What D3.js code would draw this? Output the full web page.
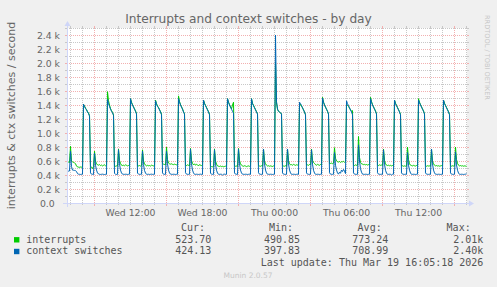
<!DOCTYPE html>
<html>
<head>
<meta charset="utf-8">
<script src="https://cdn.jsdelivr.net/npm/d3@7"></script>
<style>
  body { margin: 0; background: #f0f0f0; }
  svg { display: block; }
  text { font-family: "DejaVu Sans", sans-serif; fill: #666; }
  .mono { font-family: "DejaVu Sans Mono", monospace; font-size: 10px; fill: #555; }
</style>
</head>
<body>
<div id="chart"></div>
<script>
// one sample every 5 minutes, starting Wed 06:45
var startTime = new Date(2026, 2, 18, 6, 45);
var stepMinutes = 5;

var interrupts = [
  580, 585, 578, 810, 600, 585, 580, 575, 560, 530, 515, 512, 510, 514, 512, 515,
  1410, 1385, 1355, 1335, 1305, 1285, 1250,
  520, 515, 492, 518, 740, 600, 560, 545, 540, 548, 535, 542, 530, 538, 545, 532, 540,
  1590, 1460, 1400, 1350, 1320, 1295, 1260,
  520, 525, 530, 528, 770, 610, 565, 540, 535, 540, 532, 545, 538, 530, 536, 540,
  1490, 1440, 1405, 1375, 1345, 1315, 1280,
  525, 530, 535, 528, 532, 760, 600, 560, 540, 530, 538, 532, 535, 528, 540, 535, 530, 534,
  1470, 1420, 1385, 1365, 1335, 1305, 1270,
  560, 555, 550, 545, 800, 620, 570, 560, 555, 560, 552, 548, 555, 550, 545, 552,
  1530, 1450, 1405, 1375, 1345, 1305, 1275,
  540, 535, 545, 538, 530, 780, 610, 565, 545, 560, 540, 552, 545, 530, 548, 540, 535, 542,
  1470, 1425, 1395, 1365, 1335, 1305, 1270,
  525, 520, 518, 522, 770, 600, 555, 530, 525, 522, 528, 520, 524, 518, 522, 526, 520,
  1490, 1440, 1405, 1375, 1345, 1400, 1440,
  530, 525, 528, 522, 780, 610, 560, 540, 530, 525, 532, 528, 520, 526, 530, 524, 528,
  1490, 1425, 1395, 1365, 1335, 1305, 1275,
  530, 528, 525, 532, 526, 770, 600, 560, 540, 528, 532, 525, 530, 526, 522, 530, 528,
  2010, 1430, 1340, 1310, 1300, 1290, 1270,
  530, 528, 525, 532, 526, 770, 605, 560, 545, 548, 540, 552, 545, 538, 546, 542, 540,
  1380, 1410, 1385, 1360, 1330, 1300, 1260,
  540, 545, 538, 550, 544, 770, 610, 580, 565, 548, 540, 552, 545, 538, 550, 542,
  1510, 1440, 1400, 1370, 1340, 1310, 1270,
  560, 565, 570, 562, 568, 790, 640, 600, 590, 585, 592, 580, 590, 588, 595, 582, 590,
  1400, 1400, 1380, 1355, 1330, 1310, 1320,
  540, 535, 545, 538, 540, 950, 650, 580, 560, 555, 548, 552, 545, 550, 542, 548, 545,
  1510, 1450, 1405, 1375, 1345, 1315, 1275,
  540, 535, 545, 538, 542, 536, 770, 610, 560, 540, 535, 540, 532, 538, 530, 536, 532,
  1470, 1425, 1395, 1365, 1335, 1305, 1265,
  528, 532, 525, 530, 526, 530, 800, 620, 560, 540, 535, 530, 538, 532, 528, 536, 530,
  1490, 1440, 1405, 1375, 1345, 1315, 1275,
  530, 525, 532, 528, 530, 526, 770, 600, 560, 540, 530, 535, 528, 532, 526, 530, 534, 528,
  1470, 1425, 1395, 1365, 1335, 1305, 1265,
  530, 526, 532, 528, 530, 800, 620, 565, 540, 530, 535, 528, 532, 526, 530, 528, 524
];

var ctxSwitches = [
  460, 455, 458, 740, 520, 470, 468, 465, 462, 450, 420, 412, 410, 408, 410, 412,
  1410, 1380, 1350, 1330, 1300, 1280, 1240,
  430, 412, 410, 408, 710, 540, 470, 430, 415, 410, 408, 410, 412, 409, 407, 410, 411,
  1480, 1420, 1380, 1340, 1310, 1290, 1250,
  425, 410, 408, 410, 760, 560, 470, 430, 412, 410, 409, 411, 410, 408, 410, 412,
  1490, 1430, 1400, 1370, 1340, 1310, 1270,
  428, 412, 409, 410, 411, 740, 550, 465, 428, 410, 409, 411, 408, 410, 412, 409, 410, 411,
  1460, 1410, 1380, 1360, 1330, 1300, 1260,
  430, 411, 409, 410, 740, 560, 470, 430, 412, 410, 409, 411, 410, 408, 410, 411,
  1490, 1440, 1400, 1370, 1340, 1300, 1270,
  432, 412, 410, 409, 411, 770, 560, 470, 430, 410, 409, 411, 410, 408, 410, 412, 409, 410,
  1470, 1420, 1390, 1360, 1330, 1300, 1260,
  428, 411, 409, 410, 760, 555, 468, 428, 410, 409, 411, 410, 398, 410, 412, 409, 411,
  1490, 1440, 1400, 1370, 1340, 1310, 1280,
  430, 412, 410, 409, 770, 560, 470, 430, 411, 410, 409, 411, 410, 408, 410, 412, 410,
  1490, 1420, 1390, 1360, 1330, 1300, 1270,
  432, 412, 410, 409, 411, 770, 560, 470, 430, 411, 410, 409, 411, 410, 408, 410, 412,
  2400, 1450, 1340, 1310, 1300, 1290, 1270,
  430, 412, 410, 409, 411, 770, 560, 470, 430, 410, 409, 411, 410, 408, 410, 412, 410,
  1440, 1420, 1390, 1360, 1330, 1300, 1260,
  430, 412, 410, 409, 411, 760, 555, 468, 428, 410, 409, 411, 410, 408, 410, 411,
  1500, 1440, 1400, 1370, 1340, 1310, 1270,
  432, 412, 410, 409, 411, 720, 540, 470, 430, 412, 440, 425, 470, 450, 480, 455, 420,
  1460, 1420, 1390, 1360, 1330, 1300, 1260,
  430, 412, 410, 409, 411, 830, 600, 490, 440, 412, 410, 409, 411, 410, 408, 410, 411,
  1490, 1440, 1400, 1370, 1340, 1310, 1270,
  432, 412, 410, 409, 411, 410, 760, 555, 468, 428, 410, 409, 411, 410, 400, 410, 412,
  1470, 1420, 1390, 1360, 1330, 1300, 1260,
  430, 412, 410, 409, 411, 410, 720, 540, 468, 428, 410, 409, 411, 410, 408, 410, 412,
  1470, 1430, 1400, 1370, 1340, 1310, 1270,
  430, 412, 410, 409, 411, 410, 770, 560, 470, 430, 411, 410, 409, 411, 410, 408, 410, 412,
  1470, 1420, 1390, 1360, 1330, 1300, 1260,
  430, 412, 410, 409, 411, 730, 545, 468, 428, 410, 409, 411, 410, 408, 410, 412, 424
];

var yTicks = [0, 200, 400, 600, 800, 1000, 1200, 1400, 1600, 1800, 2000, 2200, 2400];
var timeLabels = [
  new Date(2026, 2, 18, 12, 0),
  new Date(2026, 2, 18, 18, 0),
  new Date(2026, 2, 19, 0, 0),
  new Date(2026, 2, 19, 6, 0),
  new Date(2026, 2, 19, 12, 0)
];

var seriesNames = ["interrupts", "context switches"];
var seriesColors = ["#00cc00", "#0066b3"];
var curValues = ["523.70", "424.13"];
var minValues = ["490.85", "397.83"];
var avgValues = ["773.24", "708.99"];
var maxValues = ["2.01k", "2.40k"];

var W = 497, H = 287;
var X0 = 67, X1 = 467, Y0 = 203, Y1 = 28;

var svg = d3.select("#chart")
  .append("svg")
    .attr("width", W)
    .attr("height", H);

svg.append("rect")
  .attr("width", W).attr("height", H)
  .attr("fill", "#f0f0f0");

var endTime = d3.timeMinute.offset(startTime, stepMinutes * interrupts.length);

var x = d3.scaleTime()
  .domain([startTime, endTime])
  .range([X0, X1]);

var y = d3.scaleLinear()
  .domain([0, 2500])
  .range([Y0, Y1]);

// canvas
svg.append("rect")
  .attr("x", X0).attr("y", Y1)
  .attr("width", X1 - X0).attr("height", Y0 - Y1)
  .attr("fill", "#fff");

var grid = svg.append("g").attr("shape-rendering", "crispEdges");
var minorCol = "#c8c8c8", majorCol = "#f2b0b0";

// horizontal grid
y.ticks(25).forEach(function(v) {
  var major = v % 200 === 0;
  if (v === 0) return;
  var yy = y(v) + 0.5;
  var col = major ? majorCol : minorCol;
  grid.append("line")
    .attr("x1", X0).attr("x2", X1).attr("y1", yy).attr("y2", yy)
    .attr("stroke", col).attr("stroke-dasharray", "1,1");
  grid.append("line")
    .attr("x1", X0 - 2).attr("x2", X0).attr("y1", yy).attr("y2", yy)
    .attr("stroke", col);
  grid.append("line")
    .attr("x1", X1).attr("x2", X1 + 2).attr("y1", yy).attr("y2", yy)
    .attr("stroke", col);
});

// vertical grid: minor every hour, major every 6h
x.ticks(d3.timeHour.every(1)).forEach(function(t) {
  var major = t.getHours() % 6 === 3;
  var xx = x(t) + 0.5;
  var col = major ? majorCol : minorCol;
  grid.append("line")
    .attr("x1", xx).attr("x2", xx).attr("y1", Y1).attr("y2", Y0)
    .attr("stroke", col).attr("stroke-dasharray", "1,1");
  grid.append("line")
    .attr("x1", xx).attr("x2", xx).attr("y1", Y1 - 2).attr("y2", Y1)
    .attr("stroke", col);
  grid.append("line")
    .attr("x1", xx).attr("x2", xx).attr("y1", Y0).attr("y2", Y0 + (major ? 3 : 2))
    .attr("stroke", col);
});

// series
var line = d3.line()
  .x(function(d, i) { return x(d3.timeMinute.offset(startTime, stepMinutes * i)) + 0.5; })
  .y(function(d) { return y(d); });

[interrupts, ctxSwitches].forEach(function(s, k) {
  svg.append("path")
    .datum(s)
    .attr("d", line)
    .attr("fill", "none")
    .attr("stroke", seriesColors[k])
    .attr("stroke-width", 1);
});

// axes lines + arrows
var axisCol = "#cfd6f8";
svg.append("line")
  .attr("x1", X0 - 4).attr("x2", X1 + 4).attr("y1", Y0 + 0.5).attr("y2", Y0 + 0.5)
  .attr("stroke", axisCol);
svg.append("line")
  .attr("x1", X0 + 0.5).attr("x2", X0 + 0.5).attr("y1", Y0 + 4).attr("y2", Y1 - 4)
  .attr("stroke", axisCol);
svg.append("path")
  .attr("d", "M" + (X1 + 2) + "," + (Y0 - 2.5) + "L" + (X1 + 2) + "," + (Y0 + 3.5) + "L" + (X1 + 7) + "," + (Y0 + 0.5) + "Z")
  .attr("fill", axisCol);
svg.append("path")
  .attr("d", "M" + (X0 - 2.5) + "," + (Y1 - 2) + "L" + (X0 + 3.5) + "," + (Y1 - 2) + "L" + (X0 + 0.5) + "," + (Y1 - 7) + "Z")
  .attr("fill", axisCol);

// y tick labels
var yAxis = svg.append("g")
  .attr("transform", "translate(" + X0 + ",0)")
  .call(d3.axisLeft(y)
    .tickValues(yTicks)
    .tickSize(0)
    .tickPadding(7)
    .tickFormat(function(v) { return v === 0 ? "0.0" : (v / 1000).toFixed(1) + " k"; }));
yAxis.select(".domain").remove();
yAxis.selectAll("text")
  .attr("dy", "0.4em")
  .attr("dx", function(d) { return d === 0 ? -5.3 : 0; })
  .style("font-family", "DejaVu Sans")
  .style("font-size", "9.3px")
  .attr("fill", "#666");

// x tick labels
var xAxis = svg.append("g")
  .attr("transform", "translate(0," + Y0 + ")")
  .call(d3.axisBottom(x)
    .tickValues(timeLabels)
    .tickSize(0)
    .tickPadding(6)
    .tickFormat(d3.timeFormat("%a %H:%M")));
xAxis.select(".domain").remove();
xAxis.selectAll("text")
  .style("font-family", "DejaVu Sans")
  .style("font-size", "9.3px")
  .attr("fill", "#666");

// title + axis title
svg.append("text")
  .attr("x", 248.5).attr("y", 22.8)
  .attr("text-anchor", "middle")
  .style("font-size", "12.2px")
  .text("Interrupts and context switches - by day");

svg.append("text")
  .attr("transform", "translate(15," + ((Y0 + Y1) / 2) + ") rotate(-90)")
  .attr("text-anchor", "middle")
  .style("font-size", "11px")
  .text("interrupts & ctx switches / second");

svg.append("text")
  .attr("transform", "translate(484.5,15) rotate(90)")
  .style("font-size", "6.6px")
  .style("fill", "#c7c7c7")
  .text("RRDTOOL / TOBI OETIKER");

// legend
var colEnds = [211.3, 300, 388.4, 483.4];
var headEnds = [205, 293, 381.7, 470.7];
["Cur:", "Min:", "Avg:", "Max:"].forEach(function(h, j) {
  svg.append("text").attr("class", "mono")
    .attr("x", headEnds[j]).attr("y", 230.7)
    .attr("text-anchor", "end")
    .text(h);
});

seriesNames.forEach(function(name, k) {
  var by = 242.7 + k * 11.7;
  svg.append("rect")
    .attr("x", 14).attr("y", by - 5.6)
    .attr("width", 5.4).attr("height", 5.4)
    .attr("fill", seriesColors[k]);
  svg.append("text").attr("class", "mono")
    .attr("x", 26.2).attr("y", by)
    .text(name);
  [curValues[k], minValues[k], avgValues[k], maxValues[k]].forEach(function(v, j) {
    svg.append("text").attr("class", "mono")
      .attr("x", colEnds[j]).attr("y", by)
      .attr("text-anchor", "end")
      .text(v);
  });
});

svg.append("text").attr("class", "mono")
  .attr("x", 483.4).attr("y", 266.4)
  .attr("text-anchor", "end")
  .text("Last update: Thu Mar 19 16:05:18 2026");

svg.append("text")
  .attr("x", 248).attr("y", 278.3)
  .attr("text-anchor", "middle")
  .style("font-size", "7.5px")
  .style("fill", "#c7c7c7")
  .text("Munin 2.0.57");
</script>
</body>
</html>
